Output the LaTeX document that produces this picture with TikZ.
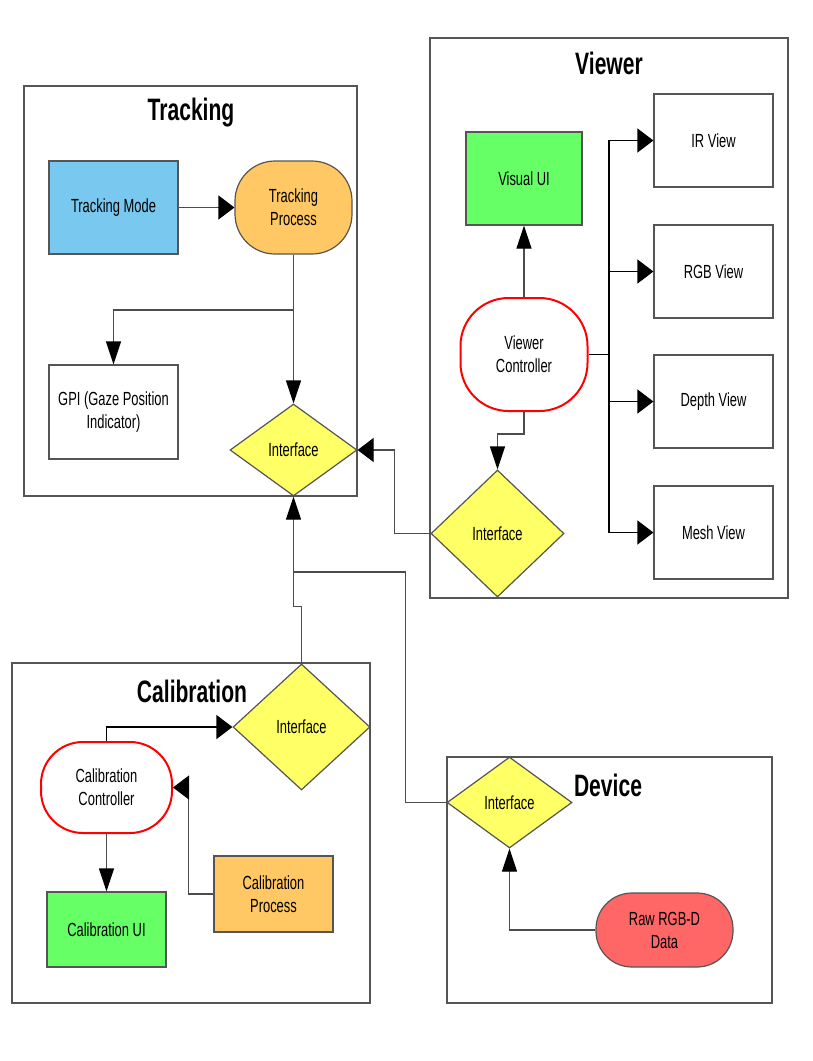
\documentclass[tikz,border=0pt]{standalone}
\usepackage{fontspec}
\setmainfont[FakeStretch=0.68]{Liberation Sans}
\usetikzlibrary{shapes.geometric,arrows.meta}

\definecolor{boxgray}{RGB}{85,85,85}
\definecolor{modeblue}{RGB}{120,200,240}
\definecolor{procorange}{RGB}{255,200,100}
\definecolor{uigreen}{RGB}{102,255,102}
\definecolor{ifyellow}{RGB}{255,255,102}
\definecolor{datared}{RGB}{255,102,102}

\tikzstyle{group} = [
rectangle,
draw=boxgray,
line width=1.5pt,
fill=white
]
\tikzstyle{title} = [
font=\fontsize{31}{34}\selectfont\bfseries
]
\tikzstyle{block} = [
rectangle,
minimum width=129pt,
minimum height=93pt,
inner sep=2pt,
align=center,
draw=boxgray,
line width=1.2pt,
font=\fontsize{19}{23}\selectfont
]
\tikzstyle{controller} = [
block,
draw=red,
line width=2pt,
fill=white
]
\tikzstyle{interface} = [
diamond,
inner sep=0pt,
align=center,
draw=boxgray,
line width=1.2pt,
fill=ifyellow,
font=\fontsize{19}{23}\selectfont
]
\tikzstyle{line} = [
draw=black!70,
line width=1.2pt
]
\tikzstyle{harrow} = [
line,
-{Triangle[length=16pt,width=24pt,color=black]}
]
\tikzstyle{varrow} = [
line,
-{Triangle[length=23pt,width=15pt,color=black]}
]

\begin{document}
\begin{tikzpicture}[
x=1pt,
y=-1pt
]
\useasboundingbox[fill=white] (0,0) rectangle (812,1061);

% Groups
\node (trackinggroup) [group, minimum width=333pt, minimum height=410pt] at (190.5,291) {};
\node (viewergroup) [group, minimum width=358pt, minimum height=560pt] at (609,318) {};
\node (calibgroup) [group, minimum width=358pt, minimum height=340pt] at (191,833) {};
\node (devicegroup) [group, minimum width=325pt, minimum height=246pt] at (609.5,880) {};

\node (trackingtitle) [title] at (191,113) {Tracking};
\node (viewertitle) [title] at (609,63) {Viewer};
\node (calibtitle) [title] at (192,691) {Calibration};
\node (devicetitle) [title] at (608,785) {Device};

% Tracking
\node (mode) [block, fill=modeblue] at (113.5,207.5) {Tracking Mode};
\node (trackproc) [block, fill=procorange, minimum width=117pt, rounded corners=40pt]
at (293.5,207.5) {Tracking\\Process};
\node (gpi) [block, fill=white, minimum height=94pt] at (113.5,412)
{GPI (Gaze Position\\Indicator)};
\node (trackif) [interface, minimum width=127pt, minimum height=92pt] at (293.5,450) {Interface};

% Viewer
\node (visualui) [block, fill=uigreen, minimum width=116pt] at (524,178.5) {Visual UI};
\node (viewctrl) [controller, minimum width=127pt, minimum height=113pt, rounded corners=48pt]
at (524,354.5) {Viewer\\Controller};
\node (irview) [block, fill=white, minimum width=119pt] at (713.5,140.5) {IR View};
\node (rgbview) [block, fill=white, minimum width=119pt] at (713.5,271.5) {RGB View};
\node (depthview) [block, fill=white, minimum width=119pt] at (713.5,401.5) {Depth View};
\node (meshview) [block, fill=white, minimum width=119pt] at (713.5,532.5) {Mesh View};
\node (viewif) [interface, minimum width=133pt, minimum height=127pt] at (497.5,533.5) {Interface};

% Calibration
\node (calctrl) [controller, minimum width=131pt, minimum height=91pt, rounded corners=42pt]
at (106.5,787.5) {Calibration\\Controller};
\node (calui) [block, fill=uigreen, minimum width=119pt, minimum height=75pt] at (106.5,929.5)
{Calibration UI};
\node (calproc) [block, fill=procorange, minimum width=119pt, minimum height=76pt] at (273.5,894)
{Calibration\\Process};
\node (calif) [interface, minimum width=137pt, minimum height=126pt] at (301.5,727) {Interface};

% Device
\node (devif) [interface, minimum width=125pt, minimum height=91pt] at (509.5,802.5) {Interface};
\node (rawdata) [block, fill=datared, minimum width=137pt, minimum height=74pt, rounded corners=36pt]
at (664.5,930) {Raw RGB-D\\Data};

\coordinate (split) at (293.5,310);
\coordinate (trunk) at (609,354.5);
\coordinate (join) at (293.5,572);

% Arrows
\draw [harrow] (mode) -- (trackproc);
\draw [varrow] (trackproc) -- (trackif);
\draw [varrow] (split) -| (gpi.north);
\draw [harrow] (viewif.west) -- ++(-36,0) |- (trackif.east);
\draw [varrow] (calif.north) -- ++(0,-57) -| (trackif.south);
\draw [line] (devif.west) -- ++(-41,0) |- (join);

\draw [varrow] (viewctrl) -- (visualui);
\draw [varrow] (viewctrl.south) -- ++(0,22) -| (viewif.north);
\draw [line, draw=black] (viewctrl.east) -- (trunk);
\draw [harrow, draw=black] (trunk) |- (irview.west);
\draw [harrow, draw=black] (trunk) |- (rgbview.west);
\draw [harrow, draw=black] (trunk) |- (depthview.west);
\draw [harrow, draw=black] (trunk) |- (meshview.west);

\draw [harrow, draw=black] (calctrl.north) |- (calif.west);
\draw [harrow] (calproc.west) -- ++(-25,0) |- (calctrl.east);
\draw [varrow] (calctrl) -- (calui);

\draw [varrow] (rawdata.west) -| (devif.south);

\end{tikzpicture}
\end{document}
